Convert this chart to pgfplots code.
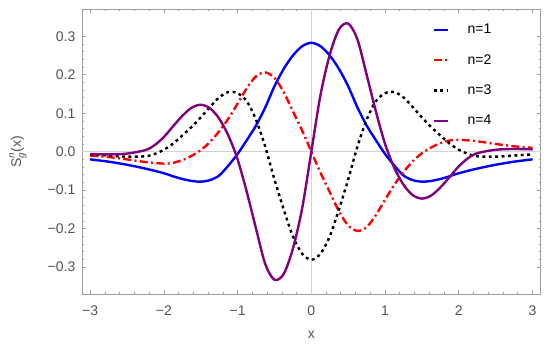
\documentclass[border=0pt]{standalone}
\usepackage{pgfplots}
\pgfplotsset{compat=1.18}
\usepackage{amsmath}
\usepackage{fontspec}
\setmainfont{Liberation Sans}

\definecolor{tl}{gray}{0.33}
\definecolor{fr}{gray}{0.62}
\definecolor{mmapurple}{rgb}{0.5,0,0.5}

\begin{document}
\begin{tikzpicture}
\useasboundingbox (-61.5pt,-42.75pt) rectangle (351pt,220.5pt);
\begin{axis}[
    scale only axis,
    width=344pt, height=213.5pt,
    xmin=-3.11, xmax=3.11,
    ymin=-0.37, ymax=0.37,
    font=\fontsize{10.5}{12.6}\selectfont,
    xtick={-3,-2,-1,0,1,2,3},
    xticklabels={−3,−2,−1,0,1,2,3},
    ytick={-0.3,-0.2,-0.1,0,0.1,0.2,0.3},
    yticklabels={−0.3,−0.2,−0.1,0.0,0.1,0.2,0.3},
    minor x tick num=4, minor y tick num=4,
    tick align=inside,
    major tick length=3pt, minor tick length=1.6pt,
    tick style={fr, line width=0.5pt},
    axis line style={fr, line width=0.6pt},
    ticklabel style={tl},
    xticklabel style={yshift=-5pt},
    yticklabel style={xshift=-1.5pt},
    extra x ticks={0}, extra x tick labels={},
    extra y ticks={0}, extra y tick labels={},
    extra tick style={grid=major, major grid style={gray!35, line width=0.6pt}, major tick length=0pt},
    xlabel={x},
    ylabel={$\text{S}_{\text{\itshape g}}^{\text{\itshape n}}\text{(x)}$},
    every axis x label/.style={at={(axis description cs:0.5,-0.145)}, anchor=center, tl},
    every axis y label/.style={at={(axis description cs:-0.1395,0.5)}, anchor=center, rotate=90, tl},
    legend style={draw=none, fill=none, at={(0.755,0.968)}, anchor=north west,
        row sep=10pt, font=\fontsize{10.5}{12.6}\selectfont,
        /tikz/every odd column/.append style={column sep=12pt}},
    legend cell align=left,
    legend image code/.code={\draw[#1] (0pt,0pt) -- (10.5pt,0pt);},
    every axis plot/.append style={line width=1.8pt, smooth},
]

% n=1
\addplot[blue] coordinates {
(-3,-0.020) (-2.75,-0.026) (-2.5,-0.034) (-2.25,-0.044) (-2,-0.056) (-1.875,-0.064)
(-1.75,-0.071) (-1.625,-0.076) (-1.5,-0.078) (-1.375,-0.074) (-1.25,-0.062) (-1.125,-0.036)
(-1,-0.006) (-0.875,0.030) (-0.75,0.068) (-0.625,0.115) (-0.5,0.170) (-0.375,0.215)
(-0.25,0.250) (-0.125,0.274) (0,0.283)
(0.125,0.274) (0.25,0.250) (0.375,0.215) (0.5,0.170) (0.625,0.115) (0.75,0.068)
(0.875,0.030) (1,-0.006) (1.125,-0.036) (1.25,-0.062) (1.375,-0.074) (1.5,-0.078)
(1.625,-0.076) (1.75,-0.071) (1.875,-0.064) (2,-0.056) (2.25,-0.044) (2.5,-0.034)
(2.75,-0.026) (3,-0.020)
};
\addlegendentry{n=1}

% n=2
\addplot[red, dash pattern=on 6pt off 2.5pt on 1.5pt off 2.5pt] coordinates {
(-3,-0.010) (-2.75,-0.014) (-2.5,-0.020) (-2.25,-0.027) (-2,-0.031) (-1.875,-0.029)
(-1.75,-0.022) (-1.625,-0.011) (-1.5,0.004) (-1.375,0.025) (-1.25,0.053) (-1.125,0.086)
(-1,0.125) (-0.875,0.165) (-0.75,0.196) (-0.625,0.206) (-0.5,0.192) (-0.375,0.155)
(-0.25,0.105) (-0.125,0.055) (0,0)
(0.125,-0.055) (0.25,-0.105) (0.375,-0.155) (0.5,-0.192) (0.625,-0.206) (0.75,-0.196)
(0.875,-0.165) (1,-0.125) (1.125,-0.086) (1.25,-0.053) (1.375,-0.025) (1.5,-0.004)
(1.625,0.011) (1.75,0.022) (1.875,0.029) (2,0.031) (2.25,0.027) (2.5,0.020)
(2.75,0.014) (3,0.010)
};
\addlegendentry{n=2}

% n=3
\addplot[black, dash pattern=on 2.2pt off 2.6pt] coordinates {
(-3,-0.007) (-2.75,-0.010) (-2.5,-0.013) (-2.25,-0.012) (-2.125,-0.006) (-2,0.005)
(-1.875,0.021) (-1.75,0.042) (-1.625,0.064) (-1.5,0.089) (-1.375,0.116) (-1.25,0.141)
(-1.125,0.155) (-1,0.152) (-0.875,0.131) (-0.75,0.083) (-0.625,0.013) (-0.5,-0.072)
(-0.375,-0.150) (-0.25,-0.220) (-0.125,-0.265) (0,-0.281)
(0.125,-0.265) (0.25,-0.220) (0.375,-0.150) (0.5,-0.072) (0.625,0.013) (0.75,0.083)
(0.875,0.131) (1,0.152) (1.125,0.155) (1.25,0.141) (1.375,0.116) (1.5,0.089)
(1.625,0.064) (1.75,0.042) (1.875,0.021) (2,0.005) (2.125,-0.006) (2.25,-0.012)
(2.5,-0.013) (2.75,-0.010) (3,-0.007)
};
\addlegendentry{n=3}

% n=4
\addplot[mmapurple] coordinates {
(-3,-0.006) (-2.75,-0.007) (-2.5,-0.005) (-2.25,0.004) (-2.125,0.017) (-2,0.038)
(-1.875,0.066) (-1.75,0.093) (-1.625,0.114) (-1.5,0.122) (-1.375,0.113) (-1.25,0.086)
(-1.125,0.042) (-1,-0.020) (-0.875,-0.105) (-0.75,-0.200) (-0.625,-0.292) (-0.5,-0.333)
(-0.375,-0.318) (-0.25,-0.252) (-0.125,-0.148) (0,0)
(0.125,0.148) (0.25,0.252) (0.375,0.318) (0.5,0.333) (0.625,0.292) (0.75,0.200)
(0.875,0.105) (1,0.020) (1.125,-0.042) (1.25,-0.086) (1.375,-0.113) (1.5,-0.122)
(1.625,-0.114) (1.75,-0.093) (1.875,-0.066) (2,-0.038) (2.125,-0.017) (2.25,-0.004)
(2.5,0.005) (2.75,0.007) (3,0.006)
};
\addlegendentry{n=4}

\end{axis}
\end{tikzpicture}
\end{document}
